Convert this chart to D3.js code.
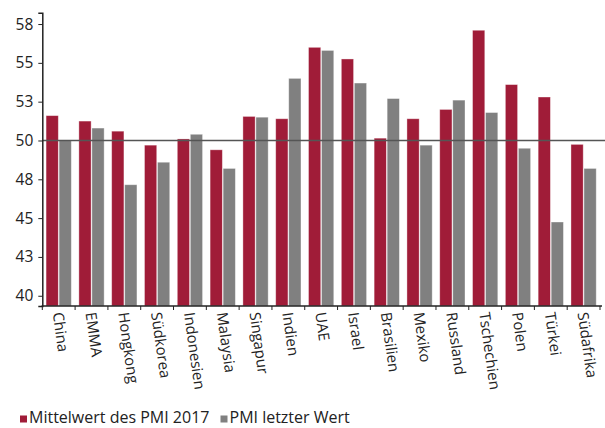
<!DOCTYPE html>
<html>
<head>
<meta charset="utf-8">
<script src="https://cdn.jsdelivr.net/npm/d3@7/dist/d3.min.js"></script>
<style>
body { margin: 0; background: #fff; }
text { font-family: "Open Sans", "Lato", sans-serif; fill: #222; }
</style>
</head>
<body>
<div class="chartfield"></div>
<script>
var width = 605;
var height = 428;

// data
var laender = ["China", "EMMA", "Hongkong", "Südkorea", "Indonesien", "Malaysia", "Singapur", "Indien", "UAE", "Israel", "Brasilien", "Mexiko", "Russland", "Tschechien", "Polen", "Türkei", "Südafrika"];
var serien = ["Mittelwert des PMI 2017", "PMI letzter Wert"];
var mittelwert2017 = [51.6, 51.25, 50.6, 49.7, 50.1, 49.4, 51.55, 51.4, 56.0, 55.25, 50.15, 51.4, 52.0, 57.1, 53.6, 52.8, 49.75];
var letzterWert = [50.0, 50.8, 47.15, 48.6, 50.4, 48.2, 51.5, 54.0, 55.8, 53.7, 52.7, 49.7, 52.6, 51.8, 49.5, 44.75, 48.2];
var yTicks = [40, 42.5, 45, 47.5, 50, 52.5, 55, 57.5];
var yTickLabels = ["40", "43", "45", "48", "50", "53", "55", "58"];
var referenz = 50;

var farben = ["#a01c38", "#808080"];

var rows = laender.map(function(l, i) {
	return {land: l, werte: [mittelwert2017[i], letzterWert[i]]};
});

var plotLeft = 42.3, plotRight = 600, plotTop = 12.7, plotBottom = 306;

var svg = d3.select(".chartfield")
	.append("svg")
	.attr("width", width)
	.attr("height", height);

var x0 = d3.scaleBand()
	.domain(laender)
	.range([plotLeft, plotRight])
	.paddingInner(0.23)
	.paddingOuter(0.115);

var x1 = d3.scaleBand()
	.domain([0, 1])
	.range([0, x0.bandwidth()])
	.paddingInner(0.06);

var y = d3.scaleLinear()
	.domain([39.34, 58.23])
	.range([plotBottom, plotTop]);

// bars
var gruppen = svg.selectAll("g.gruppe")
	.data(rows)
	.enter()
	.append("g")
	.attr("class", "gruppe")
	.attr("transform", function(d) { return "translate(" + x0(d.land) + ",0)"; });

gruppen.selectAll("rect")
	.data(function(d) { return d.werte; })
	.enter()
	.append("rect")
	.attr("x", function(d, i) { return x1(i); })
	.attr("width", x1.bandwidth())
	.attr("y", function(d) { return y(d); })
	.attr("height", function(d) { return plotBottom - y(d); })
	.attr("fill", function(d, i) { return farben[i]; })
	.attr("stroke", "#fff")
	.attr("stroke-opacity", 0.45)
	.attr("stroke-width", 0.8);

// line at 50
svg.append("line")
	.attr("x1", plotLeft)
	.attr("x2", width)
	.attr("y1", y(referenz))
	.attr("y2", y(referenz))
	.attr("stroke", "#555")
	.attr("stroke-width", 1.6);

// y axis
var yAxis = d3.axisLeft(y)
	.tickValues(yTicks)
	.tickFormat(function(d, i) { return yTickLabels[i]; })
	.tickSize(4)
	.tickPadding(5);

var gy = svg.append("g")
	.attr("transform", "translate(" + plotLeft + ",0)")
	.call(yAxis);
gy.select(".domain").attr("stroke", "#222").attr("stroke-width", 1.5);
gy.selectAll(".tick line").attr("stroke", "#222");
gy.selectAll(".tick text")
	.style("font-size", "15.5px")
	.style("font-family", "'Open Sans', Lato, sans-serif")
	.attr("fill", "#222");

// x axis: labels at band centres, tick marks at band edges
var xAxis = d3.axisBottom(x0).tickSize(0).tickPadding(0);
var gx = svg.append("g")
	.attr("transform", "translate(0," + plotBottom + ")")
	.call(xAxis);
gx.select(".domain").remove();
gx.selectAll(".tick text")
	.style("font-size", "15px")
	.style("font-family", "'Open Sans', Lato, sans-serif")
	.attr("fill", "#222")
	.attr("text-anchor", "start")
	.attr("y", 0)
	.attr("dy", 0)
	.attr("transform", "translate(-6,7) rotate(82)");

svg.append("line")
	.attr("x1", plotLeft - 0.75)
	.attr("x2", width - 3)
	.attr("y1", plotBottom)
	.attr("y2", plotBottom)
	.attr("stroke", "#222")
	.attr("stroke-width", 1.5);

var halbLuecke = x0.step() * x0.paddingInner() / 2;
var kanten = laender.map(function(l) { return x0(l) - halbLuecke; });
kanten.push(x0(laender[laender.length - 1]) + x0.bandwidth() + halbLuecke);
svg.selectAll("line.kante")
	.data(kanten)
	.enter()
	.append("line")
	.attr("class", "kante")
	.attr("x1", function(d) { return d; })
	.attr("x2", function(d) { return d; })
	.attr("y1", plotBottom)
	.attr("y2", plotBottom + 4)
	.attr("stroke", "#222")
	.attr("stroke-width", 1);

// legend
var legendX = [20, 220.5];
var legende = svg.selectAll("g.legende")
	.data(serien)
	.enter()
	.append("g")
	.attr("class", "legende")
	.attr("transform", function(d, i) { return "translate(" + legendX[i] + ",0)"; });
legende.append("rect")
	.attr("x", 0)
	.attr("y", 415.5)
	.attr("width", 7)
	.attr("height", 7)
	.attr("fill", function(d, i) { return farben[i]; });
legende.append("text")
	.attr("x", 9)
	.attr("y", 423)
	.style("font-size", "16px")
	.text(function(d) { return d; });
</script>
</body>
</html>
